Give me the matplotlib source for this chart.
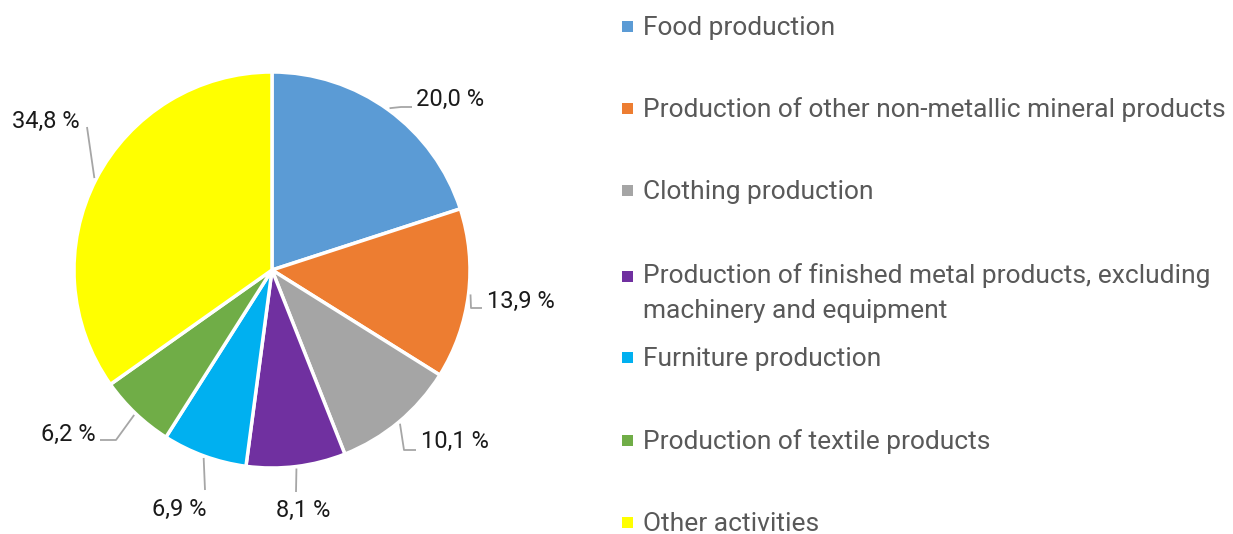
import matplotlib
matplotlib.use("Agg")
import matplotlib.pyplot as plt
import numpy as np

categories = [
    "Food production",
    "Production of other non-metallic mineral products",
    "Clothing production",
    "Production of finished metal products, excluding\nmachinery and equipment",
    "Furniture production",
    "Production of textile products",
    "Other activities",
]
values = [20.0, 13.9, 10.1, 8.1, 6.9, 6.2, 34.8]
value_labels = ["20,0 %", "13,9 %", "10,1 %", "8,1 %", "6,9 %", "6,2 %", "34,8 %"]
colors = ["#5B9BD5", "#ED7D31", "#A5A5A5", "#7030A0", "#00B0F0", "#70AD47", "#FFFF00"]

W, H = 1233, 534
plt.rcParams['font.family'] = ['Roboto', 'DejaVu Sans']

fig = plt.figure(figsize=(W / 100, H / 100), dpi=100)
ax = fig.add_axes([0, 0, 1, 1])

def P(x, y):
    return (x, H - y)

cx, cy = P(272, 270)
R = 198
wedges, _ = ax.pie(values, colors=colors, startangle=90, counterclock=False,
                   center=(cx, cy), radius=R,
                   wedgeprops=dict(edgecolor="white", linewidth=2.5))
ax.set_xlim(0, W)
ax.set_ylim(0, H)
ax.set_aspect("equal")
ax.axis("off")

# label layout: (text x, text y, ha, leader points after edge point) in pixel coords
layout = [
    (416, 99, "left", [(401, 107), (412, 107)]),
    (487, 301, "left", [(471, 308), (482, 308)]),
    (421, 441, "left", [(404, 450), (416, 450)]),
    (303, 510, "center", [(296, 492)]),
    (179, 509, "center", [(205, 490)]),
    (96, 434, "right", [(116, 440), (100, 440)]),
    (80, 121, "right", [(87, 127)]),
]

for w, lab, (tx, ty, ha, pts) in zip(wedges, value_labels, layout):
    mid = np.deg2rad((w.theta1 + w.theta2) / 2)
    ex = cx + (R + 2) * np.cos(mid)
    ey = cy + (R + 2) * np.sin(mid)
    xs = [ex] + [P(*p)[0] for p in pts]
    ys = [ey] + [P(*p)[1] for p in pts]
    ax.plot(xs, ys, color="#A6A6A6", lw=1.3, solid_capstyle="butt")
    ax.text(*P(tx, ty), lab, ha=ha, va="center", fontsize=17, color="#1a1a1a")

# legend
leg_y = [26, 108, 190, 276, 357, 440, 522]
for cat, col, y in zip(categories, colors, leg_y):
    ax.add_patch(plt.Rectangle(P(622, y + 6), 11, 11, facecolor=col, edgecolor="none"))
    if "\n" in cat:
        ax.text(*P(643, y + 17), cat, ha="left", va="center",
                fontsize=19, color="#595959", linespacing=1.62)
    else:
        ax.text(*P(643, y + 2), cat, ha="left", va="center",
                fontsize=19, color="#595959")

fig.savefig("out.png", dpi=100)
